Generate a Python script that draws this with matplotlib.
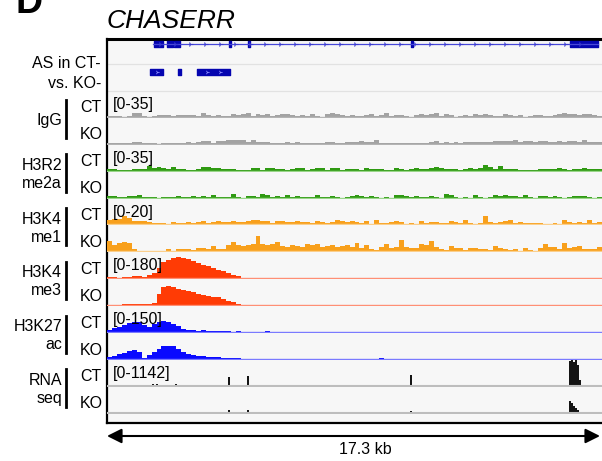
import numpy as np
import matplotlib.pyplot as plt
from matplotlib.lines import Line2D
from matplotlib.patches import FancyArrowPatch

plt.rcParams['font.family'] = ['Liberation Sans', 'DejaVu Sans']

# genomic window (kb) and gene model
REGION_KB = 17.3
gene_start, gene_end = 1.61, 17.16
exon_starts = [1.64, 2.10, 2.34, 4.26, 4.93, 10.62, 16.18]
exon_ends = [1.96, 2.31, 2.55, 4.33, 5.00, 10.69, 17.16]
as_starts = [1.50, 2.48, 3.15]
as_ends = [1.96, 2.59, 4.30]

# binned coverage, 100 bins over the window
igg_ct = [1.3, 1.3, 1.3, 0, 1.3, 5.9, 5.2, 1.3, 0, 0.7,
          2.0, 2.6, 2.0, 0.7, 2.6, 2.6, 2.0, 2.6, 1.3, 5.2,
          2.6, 0.7, 2.0, 1.3, 0.7, 3.3, 2.6, 3.3, 4.6, 1.3,
          3.3, 2.6, 3.9, 1.3, 2.6, 3.3, 3.9, 2.6, 0.7, 2.0,
          1.3, 3.3, 1.3, 0, 3.3, 4.6, 3.3, 2.6, 0.7, 2.6,
          1.3, 0.7, 2.6, 3.3, 0.7, 2.0, 4.6, 1.3, 2.0, 2.0,
          0.7, 0, 2.6, 3.3, 2.6, 3.9, 4.6, 1.3, 3.3, 2.6,
          0, 1.3, 2.0, 1.3, 3.3, 2.6, 3.3, 2.6, 0.7, 1.3,
          3.3, 2.6, 0.7, 2.0, 0, 0.7, 2.0, 2.0, 0.7, 1.3,
          2.6, 3.3, 5.2, 3.3, 3.9, 2.6, 3.3, 3.9, 2.0, 1.3]
igg_ko = [1.3, 1.3, 1.3, 0.7, 1.3, 2.0, 2.0, 0.7, 1.3, 0.7,
          0, 1.3, 1.3, 1.3, 0.7, 0.7, 2.0, 1.3, 2.6, 3.3,
          3.3, 1.3, 3.3, 3.9, 5.2, 5.2, 4.6, 5.2, 2.6, 4.6,
          2.0, 2.6, 2.6, 1.3, 1.3, 0.7, 2.0, 0.7, 2.0, 1.3,
          0.7, 1.3, 1.3, 0.7, 2.0, 2.0, 1.3, 0.7, 2.0, 2.0,
          2.6, 3.9, 2.6, 2.0, 4.6, 1.3, 1.3, 1.3, 0.7, 1.3,
          1.3, 0.7, 1.3, 0.7, 0.7, 2.6, 3.3, 1.3, 2.0, 1.3,
          2.0, 1.3, 2.0, 2.6, 2.0, 2.6, 2.0, 2.6, 3.3, 3.9,
          3.3, 3.9, 5.2, 2.6, 3.3, 3.9, 2.6, 3.3, 3.9, 2.6,
          2.6, 3.3, 2.6, 3.3, 3.9, 2.6, 4.6, 2.6, 2.0, 2.0]
h3r2_ct = [2.6, 2.0, 1.3, 0.7, 1.3, 2.0, 2.6, 2.6, 5.9, 3.9,
           5.2, 3.3, 2.6, 4.6, 2.6, 2.6, 1.3, 1.3, 2.6, 5.2,
           5.2, 3.9, 3.3, 2.6, 2.6, 2.0, 1.3, 1.3, 1.3, 3.9,
           3.3, 1.3, 3.9, 3.9, 2.6, 2.0, 1.3, 2.0, 3.9, 3.3,
           1.3, 2.0, 3.9, 3.3, 1.3, 3.3, 3.9, 1.3, 2.0, 2.6,
           2.6, 1.3, 3.3, 2.0, 2.6, 2.6, 0.7, 1.3, 3.3, 2.6,
           1.3, 2.6, 3.3, 2.6, 2.0, 3.3, 5.2, 3.3, 2.6, 2.6,
           2.0, 1.3, 2.6, 3.3, 2.6, 3.3, 7.8, 4.6, 2.0, 5.9,
           2.6, 2.6, 2.0, 1.3, 1.3, 0.7, 1.3, 2.6, 2.0, 2.6,
           2.6, 3.9, 2.6, 1.3, 2.6, 2.6, 3.3, 2.6, 2.6, 2.0]
h3r2_ko = [2.0, 2.0, 1.3, 0.7, 2.0, 2.6, 3.3, 1.3, 0.7, 1.3,
           0, 0.7, 1.3, 0.7, 2.0, 1.3, 0.7, 2.6, 1.3, 2.6,
           1.3, 3.9, 1.3, 0.7, 0.7, 4.6, 0.7, 0, 2.6, 2.0,
           0.7, 4.6, 3.3, 0.7, 2.6, 0.7, 3.3, 0.7, 2.6, 1.3,
           0.7, 0.7, 3.3, 0.7, 1.3, 2.0, 1.3, 0, 1.3, 2.0,
           3.3, 2.6, 1.3, 2.0, 0.7, 0, 0.7, 0, 3.3, 3.9,
           2.6, 1.3, 2.6, 1.3, 0.7, 2.6, 0.7, 0, 5.2, 3.3,
           0.7, 0, 0.7, 0, 3.9, 0.7, 0, 0.7, 3.9, 2.6,
           3.3, 2.6, 2.6, 0.7, 3.3, 0.7, 0, 2.0, 2.0, 1.3,
           2.0, 1.3, 0, 1.3, 2.6, 2.0, 2.6, 1.3, 0, 1.3]
me1_ct = [3.7, 4.4, 4.4, 6.7, 5.2, 3.0, 3.0, 2.6, 1.9, 1.5,
          1.1, 1.5, 0.7, 1.9, 1.1, 1.5, 2.2, 1.5, 1.9, 2.6,
          1.5, 2.2, 2.6, 1.9, 2.2, 3.0, 2.2, 1.9, 3.0, 3.7,
          3.7, 3.0, 2.6, 1.5, 2.6, 3.0, 1.9, 2.2, 2.6, 1.9,
          2.2, 1.5, 2.6, 1.9, 1.1, 2.2, 3.7, 2.6, 1.9, 2.6,
          1.9, 1.5, 3.0, 0.7, 3.7, 1.5, 1.1, 2.2, 3.0, 2.2,
          0.7, 1.1, 0.7, 3.0, 1.1, 1.9, 1.9, 1.5, 1.5, 3.0,
          1.9, 1.5, 3.3, 1.5, 0.7, 1.1, 6.7, 2.2, 1.5, 1.9,
          2.6, 3.3, 1.1, 1.9, 1.5, 1.5, 1.1, 1.5, 0.4, 0.7,
          1.1, 0.7, 3.3, 1.9, 1.5, 1.9, 1.1, 3.3, 1.5, 2.2]
me1_ko = [8.1, 5.2, 6.7, 7.4, 6.7, 2.2, 0.4, 0, 0, 0,
          0, 0.4, 1.5, 0.4, 2.2, 1.9, 2.2, 1.1, 2.6, 3.0,
          1.5, 4.4, 2.2, 1.9, 5.2, 7.4, 5.2, 4.4, 5.2, 5.9,
          11.8, 5.9, 5.2, 5.9, 7.4, 4.4, 3.7, 5.2, 4.4, 3.7,
          5.9, 5.2, 5.9, 3.7, 4.4, 5.2, 3.7, 4.4, 5.2, 3.7,
          6.7, 3.0, 5.2, 1.5, 0.7, 3.7, 5.9, 3.0, 3.7, 8.9,
          3.7, 3.0, 3.0, 5.9, 5.2, 8.1, 3.7, 1.5, 0.7, 4.4,
          3.0, 3.0, 0.7, 3.0, 3.0, 1.5, 2.2, 0.7, 4.4, 3.0,
          1.5, 0.7, 1.5, 0.4, 3.0, 0.7, 0.4, 3.0, 5.9, 3.7,
          3.7, 2.2, 6.7, 3.0, 3.7, 4.4, 2.2, 2.2, 1.5, 3.7]
me3_ct = [7, 7, 3, 7, 10, 13, 13, 10, 23, 40,
          74, 114, 127, 141, 147, 141, 134, 121, 107, 94,
          84, 74, 60, 50, 37, 23, 13, 3, 2, 0,
          0, 2, 0, 0, 0, 2, 0, 0, 0, 0,
          2, 0, 0, 0, 0, 0, 0, 0, 0, 0,
          2, 0, 0, 0, 0, 2, 0, 0, 0, 2,
          0, 0, 0, 0, 0, 0, 0, 0, 0, 2,
          0, 0, 2, 0, 0, 0, 0, 0, 2, 0,
          0, 0, 0, 0, 0, 0, 0, 0, 0, 0,
          0, 0, 0, 0, 0, 0, 0, 0, 0, 2]
me3_ko = [3, 3, 3, 10, 10, 7, 10, 7, 7, 17,
          80, 127, 134, 127, 114, 107, 100, 94, 80, 74,
          67, 60, 54, 44, 30, 20, 10, 3, 0, 0,
          0, 0, 0, 0, 0, 0, 0, 0, 0, 0,
          0, 0, 0, 0, 0, 0, 0, 0, 0, 0,
          0, 0, 0, 0, 0, 0, 0, 0, 0, 0,
          0, 0, 0, 0, 0, 0, 0, 0, 0, 0,
          0, 2, 0, 0, 0, 0, 0, 0, 0, 0,
          0, 0, 0, 0, 0, 0, 0, 0, 0, 0,
          0, 0, 0, 0, 0, 0, 0, 0, 0, 0]
k27_ct = [11, 22, 31, 39, 50, 56, 61, 39, 28, 45,
          61, 67, 56, 47, 33, 20, 11, 11, 8, 11,
          8, 8, 6, 8, 6, 3, 4, 2, 3, 1,
          3, 2, 4, 1, 2, 3, 1, 0, 2, 3,
          1, 3, 0, 2, 1, 0, 3, 1, 0, 2,
          1, 0, 2, 0, 3, 0, 1, 0, 0, 2,
          0, 1, 0, 3, 1, 0, 0, 2, 0, 1,
          0, 2, 1, 0, 0, 3, 0, 1, 0, 0,
          2, 0, 0, 1, 3, 1, 0, 2, 0, 1,
          0, 2, 0, 0, 1, 3, 2, 0, 1, 3]
k27_ko = [11, 17, 28, 33, 45, 53, 39, 8, 22, 39,
          56, 73, 78, 73, 56, 39, 28, 22, 20, 17,
          14, 14, 11, 8, 8, 6, 3, 2, 1, 2,
          1, 2, 0, 1, 0, 2, 0, 1, 0, 0,
          2, 0, 0, 1, 0, 0, 2, 0, 1, 0,
          0, 2, 0, 0, 0, 3, 0, 0, 2, 0,
          0, 0, 2, 0, 0, 0, 0, 2, 0, 2,
          0, 0, 0, 2, 0, 0, 1, 0, 0, 0,
          0, 2, 0, 0, 0, 0, 0, 0, 0, 2,
          0, 0, 0, 1, 0, 0, 2, 0, 1, 0]

# RNA-seq: sparse read piles (kb position, coverage)
rna_pos = [1.61, 1.75, 1.92, 2.41, 4.26, 4.93, 10.62,
           16.18, 16.25, 16.32, 16.39, 16.46, 16.53]
rna_ct = [85, 85, 60, 85, 380, 425, 470, 1100, 1142, 1050, 1142, 900, 250]
rna_ko = [40, 40, 0, 40, 130, 110, 85, 500, 450, 320, 220, 130, 40]

groups = ["IgG", "H3R2\nme2a", "H3K4\nme1", "H3K4\nme3", "H3K27\nac", "RNA\nseq"]
ranges = [35, 35, 20, 180, 150, 1142]
colors = ["#a3a3a3", "#2f9a12", "#f8a01c", "#ff3b05", "#0a0aff", "#141414"]
base_colors = ["#b4b4b4", "#9ad68a", "#fbcf8c", "#ff8f75", "#7a7aff", "#bdbdbd"]
signals = [(igg_ct, igg_ko), (h3r2_ct, h3r2_ko), (me1_ct, me1_ko),
           (me3_ct, me3_ko), (k27_ct, k27_ko), (rna_ct, rna_ko)]

# layout in pixels
W, H = 602, 461
X0, X1 = 107, 602
TOP, BOTTOM = 39, 423
TRACK0, TRACK_H = 91, 26.9
FS = 11.5


def box(x0, y0, x1, y1):
    return [x0 / W, 1 - y1 / H, (x1 - x0) / W, (y1 - y0) / H]


def fx(x):
    return x / W


def fy(y):
    return 1 - y / H


fig = plt.figure(figsize=(W / 100, H / 100), dpi=100)

frame = fig.add_axes(box(X0, TOP, X1 + 6, BOTTOM))
frame.set_facecolor("#f7f7f7")
frame.set_xticks([])
frame.set_yticks([])
frame.spines["right"].set_visible(False)
frame.spines["top"].set_linewidth(2.2)
frame.spines["left"].set_linewidth(1.6)
frame.spines["bottom"].set_linewidth(1.6)
frame.set_ylim(BOTTOM, TOP)
for ysep in (64, 91):
    frame.axhline(ysep, color="#e2e2e2", lw=0.9)

# gene model
gax = fig.add_axes(box(X0, 39, X1, 64))
gax.set_xlim(0, REGION_KB)
gax.set_ylim(0, 1)
gax.axis("off")
gax.plot([gene_start, gene_end], [0.8, 0.8], color="#4848d8", lw=0.9)
chev = np.arange(gene_start + 0.25, gene_end - 0.3, 0.524)
gax.plot(chev, np.full(len(chev), 0.8), ls="none", marker="4", ms=4,
         mew=0.8, color="#3a3ad0")
gax.broken_barh([(s, e - s) for s, e in zip(exon_starts, exon_ends)],
                (0.69, 0.22), color="#0505b0")

aax = fig.add_axes(box(X0, 64, X1, 91))
aax.set_xlim(0, REGION_KB)
aax.set_ylim(0, 1)
aax.axis("off")
aax.broken_barh([(s, e - s) for s, e in zip(as_starts, as_ends)],
                (0.59, 0.22), color="#0505b0")
aax.plot([1.73, 3.5, 3.95], [0.7] * 3, ls="none", marker="4", ms=3,
         mew=0.6, color="#8a8aff")

# signal tracks
for g, name in enumerate(groups):
    for k, label in enumerate(["CT", "KO"]):
        i = 2 * g + k
        top = TRACK0 + TRACK_H * i
        ax = fig.add_axes(box(X0, top, X1, top + TRACK_H))
        ax.patch.set_alpha(0)
        ax.axis("off")
        ymax = ranges[g]
        ax.set_xlim(0, REGION_KB)
        ax.set_ylim(-ymax / (TRACK_H - 1), ymax)
        ax.axhline(0, color=base_colors[g], lw=1.5 if g == 5 else 1.0)
        vals = signals[g][k]
        if g == 5:
            ax.bar(rna_pos, vals, width=0.07, color=colors[g], lw=0)
        else:
            edges = np.linspace(0, REGION_KB, len(vals) + 1)
            ax.stairs(vals, edges, fill=True, color=colors[g], lw=0)
        fig.text(fx(80), fy(top + TRACK_H / 2 + 3.5), label, ha="left",
                 va="center", fontsize=FS)
        if k == 0:
            fig.text(fx(113), fy(top + 6), f"[0-{ymax}]", ha="left",
                     va="top", fontsize=FS)
    mid = TRACK0 + TRACK_H * (2 * g + 1)
    fig.text(fx(62), fy(mid + 2.5), name, ha="right", va="center",
             fontsize=FS, linespacing=1.25)
    fig.add_artist(Line2D([fx(66), fx(66)], [fy(mid - 17.5), fy(mid + 20)],
                          color="black", lw=2))

fig.text(fx(101), fy(63), "AS in CT-", ha="right", va="center", fontsize=FS)
fig.text(fx(101), fy(84), "vs. KO-", ha="right", va="center", fontsize=FS)

fig.text(fx(107), fy(28), "CHASERR", style="italic", fontsize=19,
         ha="left", va="baseline")
fig.text(fx(15), fy(13), "D", fontweight="bold", fontsize=27,
         ha="left", va="baseline")

fig.add_artist(FancyArrowPatch((fx(107), fy(436)), (fx(600), fy(436)),
                               transform=fig.transFigure, arrowstyle="<|-|>",
                               mutation_scale=22, lw=1.5, color="black",
                               shrinkA=0, shrinkB=0))
fig.text(fx(365), fy(449), "17.3 kb", ha="center", va="center", fontsize=FS)

fig.savefig("out.png", dpi=100)
